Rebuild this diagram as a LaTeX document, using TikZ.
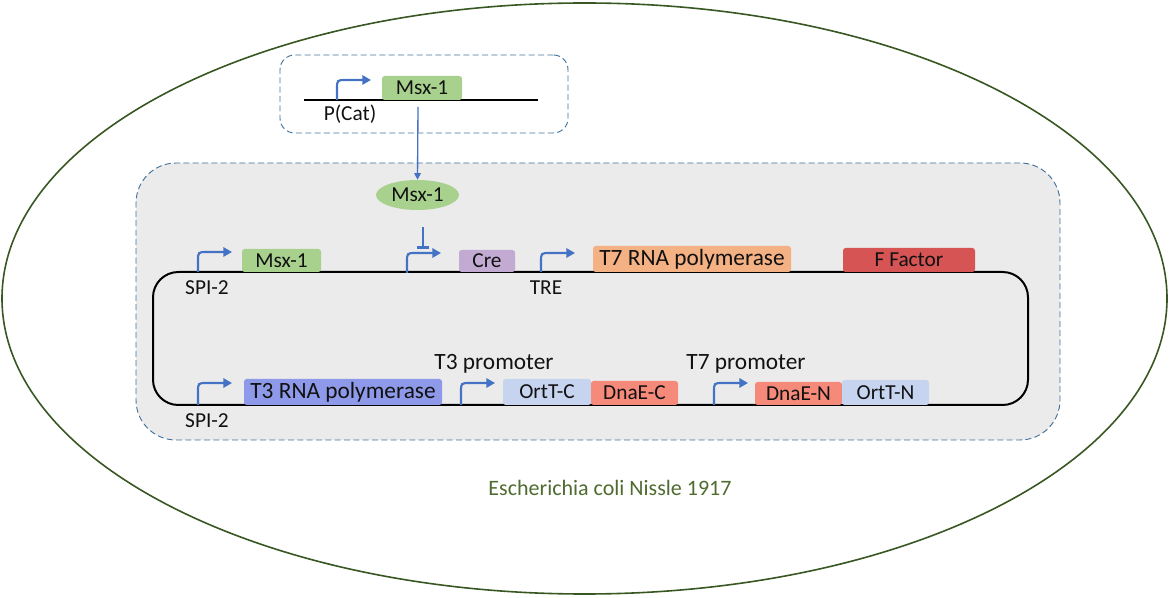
\documentclass[tikz,border=0pt]{standalone}
\usepackage{fontspec}
\setmainfont{Carlito}
\usetikzlibrary{fit,arrows.meta,shapes.geometric}
\definecolor{genegreen}{HTML}{A9D18E}
\definecolor{crepurple}{HTML}{C3AAD2}
\definecolor{t7orange}{HTML}{F4B183}
\definecolor{ffred}{HTML}{D65454}
\definecolor{t3blue}{HTML}{8E9AE9}
\definecolor{ortblue}{HTML}{C6D4EF}
\definecolor{dnasalmon}{HTML}{F5897A}
\definecolor{promblue}{HTML}{4472C4}
\definecolor{dashblue}{HTML}{41719C}
\definecolor{cytogray}{HTML}{EBEBEB}
\definecolor{cellgreen}{HTML}{385723}
\definecolor{labgreen}{HTML}{4F6B30}
\definecolor{txt}{HTML}{111111}
\newcommand\promoter[4]{% name, x, ybase, yhoriz
  \coordinate (#1) at (#2,#3);
  \draw[prom] (#1) -- (#2,#4+9) .. controls (#2,#4) .. (#2+9,#4) -- (#2+34,#4);}
\begin{document}
\begin{tikzpicture}[x=0.75pt,y=-0.75pt,
  dashbox/.style={draw=dashblue, dash pattern=on 4.5pt off 2.5pt, line width=0.7pt, inner sep=0pt},
  genetext/.style={text=txt, font=\fontsize{16}{18}\selectfont, inner sep=0pt},
  bigtext/.style={text=txt, font=\fontsize{17.5}{20}\selectfont, inner sep=0pt},
  gene/.style={inner sep=0pt, rounded corners=2pt, label={[genetext]center:#1}},
  biggene/.style={inner sep=0pt, rounded corners=2pt, label={[bigtext]center:#1}},
  lab/.style={genetext},
  biglab/.style={bigtext},
  prom/.style={draw=promblue, line width=1.6pt, -{Triangle[length=6.5pt,width=7pt]}},
  dna/.style={draw=black, line width=1.5pt}]
\useasboundingbox (0,0) rectangle (1171,598);
% cell
\node[ellipse, draw=cellgreen, line width=1.2pt, minimum width=873.75pt, minimum height=443.25pt, inner sep=0pt] (cell) at (584.5,298.5) {};
\node[font=\fontsize{16.5}{20}\selectfont, text=labgreen] (celllabel) at (610,488) {Escherichia coli Nissle 1917};
% top construct
\node[dashbox, rounded corners=11pt, fit={(280,55) (568,133)}] (topbox) {};
\coordinate (tl1) at (304,100);
\coordinate (tl2) at (538,100);
\draw[dna, line width=1.3pt] (tl1) -- (tl2);
\promoter{ptop}{337}{100}{80}
\node[gene=Msx-1, fill=genegreen, fit={(382,76) (462,100)}] (msxtop) {};
\node[lab] (pcat) at (350,114) {P(Cat)};
% cytoplasm box
\node[dashbox, fill=cytogray, rounded corners=30pt, fit={(136,163) (1060,440)}] (cyto) {};
\node[genetext, ellipse, fill=genegreen, minimum width=62.25pt, minimum height=22.5pt] (msxell) at (417.5,195) {Msx-1};
\coordinate (c1) at (418,107);
\draw[draw=promblue, line width=1pt, -{Triangle[length=5pt,width=5pt]}] (c1) -- (msxell.north);
% inhibition
\coordinate (i1) at (423,227);
\coordinate (i2) at (423,249);
\draw[draw=promblue, line width=2pt, -{Bar[width=9.5pt,line width=2pt]}] (i1) -- (i2);
% plasmid
\node[dna, rounded corners=19pt, inner sep=0pt, fit={(153,272) (1028,405)}] (plasmid) {};
% top row
\promoter{pspi1}{198}{272}{252}
\node[lab] (spi1) at (207,288) {SPI-2};
\node[gene=Msx-1, fill=genegreen, fit={(242,249) (321,272)}] (msx2) {};
\promoter{pmsx}{407}{273}{253}
\node[gene=Cre, fill=crepurple, fit={(459,250) (515,272)}] (cre) {};
\promoter{ptre}{541}{272}{253}
\node[lab] (tre) at (546,288) {TRE};
\node[biggene=T7 RNA polymerase, fill=t7orange, fit={(593,246) (791,272)}] (t7rna) {};
\node[gene=F Factor, fill=ffred, fit={(843,248) (975,272)}] (ff) {};
% bottom row
\promoter{pspi2}{198}{405}{383}
\node[lab] (spi2) at (207,421) {SPI-2};
\node[biggene=T3 RNA polymerase, fill=t3blue, fit={(244,379) (442,405)}] (t3rna) {};
\promoter{pt3}{461}{405}{383}
\node[biglab] (t3lab) at (494,364) {T3 promoter};
\node[gene=OrtT-C, fill=ortblue, fit={(503,379) (591,405)}] (ortc) {};
\node[gene=DnaE-C, fill=dnasalmon, fit={(591,381) (678,405)}] (dnac) {};
\promoter{pt7}{714}{405}{383}
\node[biglab] (t7lab) at (746,364) {T7 promoter};
\node[gene=DnaE-N, fill=dnasalmon, fit={(755,382) (842,405)}] (dnan) {};
\node[gene=OrtT-N, fill=ortblue, fit={(842,380) (929,405)}] (ortn) {};
\end{tikzpicture}
\end{document}
